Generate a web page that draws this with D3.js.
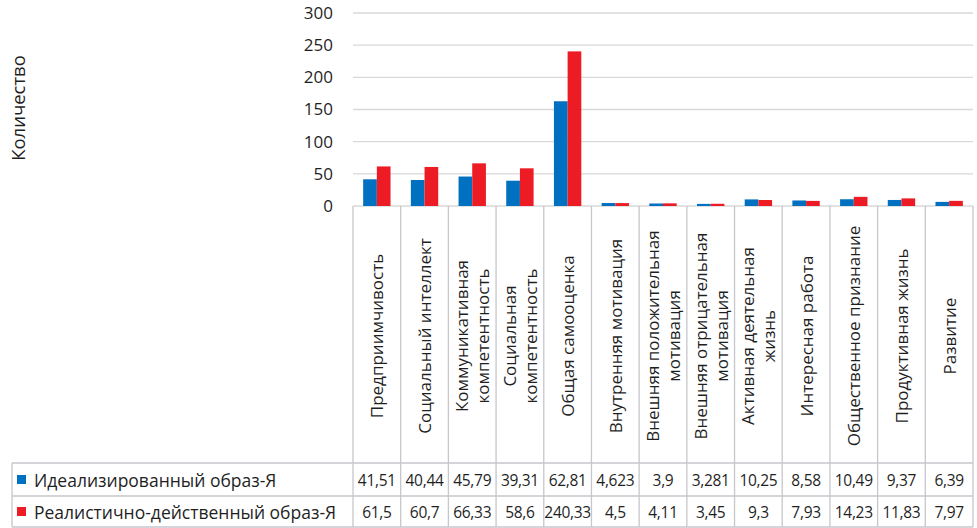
<!DOCTYPE html>
<html><head><meta charset="utf-8">
<script src="https://cdn.jsdelivr.net/npm/d3@7"></script>
<style>
body{margin:0;background:#fff;}
svg{display:block;font-family:"Open Sans",sans-serif;}
</style></head>
<body><svg id="c" width="977" height="528"></svg>
<script>
const categories = [
  ["Предприимчивость"],
  ["Социальный интеллект"],
  ["Коммуникативная","компетентность"],
  ["Социальная","компетентность"],
  ["Общая самооценка"],
  ["Внутренняя мотивация"],
  ["Внешняя положительная","мотивация"],
  ["Внешняя отрицательная","мотивация"],
  ["Активная деятельная","жизнь"],
  ["Интересная работа"],
  ["Общественное признание"],
  ["Продуктивная жизнь"],
  ["Развитие"]
];
const seriesNames = ["Идеализированный образ-Я","Реалистично-действенный образ-Я"];
const idealValues = [41.51,40.44,45.79,39.31,162.81,4.623,3.9,3.281,10.25,8.58,10.49,9.37,6.39];
const realValues  = [61.5,60.7,66.33,58.6,240.33,4.5,4.11,3.45,9.3,7.93,14.23,11.83,7.97];
const idealTableText = ["41,51","40,44","45,79","39,31","62,81","4,623","3,9","3,281","10,25","8,58","10,49","9,37","6,39"];
const realTableText  = ["61,5","60,7","66,33","58,6","240,33","4,5","4,11","3,45","9,3","7,93","14,23","11,83","7,97"];
const yTicks = [0,50,100,150,200,250,300];
const yTitle = "Количество";
const colors = ["#0070C0","#ED1C24"];

const svg = d3.select("#c");
const keys = categories.map((c,i)=>String(i));
const x = d3.scaleBand().domain(keys).range([353,973]).paddingInner(0).paddingOuter(0);
const bw = x.bandwidth();
const xs = d3.scaleBand().domain([0,1]).range([bw*0.213, bw*0.787]);
const y = d3.scaleLinear().domain([0,300]).range([206,13]);

const gridColor = "#D9D9D9", lineColor = "#C6C6CC", textColor = "#1f1f1f";

// gridlines
svg.append("g").selectAll("line").data(yTicks).join("line")
  .attr("x1",353).attr("x2",973).attr("y1",d=>y(d)).attr("y2",d=>y(d))
  .attr("stroke",gridColor).attr("stroke-width",1.3);

// y axis labels
const yAxis = d3.axisLeft(y).tickValues(yTicks).tickSize(0).tickPadding(0).tickFormat(d3.format("d"));
const ga = svg.append("g").attr("transform","translate(333,0)").call(yAxis);
ga.select(".domain").remove();
ga.selectAll("text").attr("font-size",17).attr("fill",textColor).attr("font-family","'Open Sans',sans-serif");

// y title
svg.append("text").attr("transform","translate(17,108) rotate(-90)")
  .attr("text-anchor","middle").attr("dominant-baseline","central")
  .attr("font-size",18.5).attr("fill",textColor).text(yTitle);

// bars
const data = categories.map((c,i)=>({k:String(i), v:[idealValues[i], realValues[i]]}));
const grp = svg.append("g").selectAll("g").data(data).join("g")
  .attr("transform",d=>`translate(${x(d.k)},0)`);
grp.selectAll("rect").data(d=>d.v.map((v,j)=>({v,j}))).join("rect")
  .attr("x",d=>xs(d.j)).attr("width",xs.bandwidth())
  .attr("y",d=>y(d.v)).attr("height",d=>y(0)-y(d.v))
  .attr("fill",d=>colors[d.j]);

// table vertical lines
const vx = keys.map(k=>x(k)).concat([x.range()[1]]);
svg.append("g").selectAll("line").data(vx).join("line")
  .attr("x1",d=>d).attr("x2",d=>d).attr("y1",206).attr("y2",527)
  .attr("stroke",lineColor).attr("stroke-width",1.3);
// legend column & row lines
const rowY = [463,496,527];
svg.append("g").selectAll("line").data(rowY).join("line")
  .attr("x1",12).attr("x2",973).attr("y1",d=>d).attr("y2",d=>d)
  .attr("stroke",lineColor).attr("stroke-width",1.3);
svg.append("line").attr("x1",12).attr("x2",12).attr("y1",463).attr("y2",527)
  .attr("stroke",lineColor).attr("stroke-width",1.3);

// category labels
const cl = svg.append("g").selectAll("text").data(categories).join("text")
  .attr("transform",(d,i)=>`translate(${x(String(i))+bw/2},336) rotate(-90)`)
  .attr("text-anchor","middle").attr("font-size",17).attr("fill",textColor);
cl.each(function(d){
  const t=d3.select(this); const n=d.length;
  d.forEach((s,j)=>{
    t.append("tspan").attr("x",0).attr("y",(j-(n-1)/2)*21).attr("dominant-baseline","central").text(s);
  });
});

// table rows
const tableText = [idealTableText, realTableText];
const defs = svg.append("defs");
keys.forEach((k,i)=>{
  defs.append("clipPath").attr("id","cp"+i).append("rect")
    .attr("x",x(k)+0.7).attr("y",463).attr("width",bw-1.4).attr("height",64);
});
rowY.slice(0,2).forEach((ry,r)=>{
  const cy = (ry + rowY[r+1])/2;
  svg.append("rect").attr("x",17).attr("y",cy-4.5).attr("width",9).attr("height",9).attr("fill",colors[r]);
  svg.append("text").attr("x",34).attr("y",cy).attr("dominant-baseline","central")
    .attr("font-size",17.5).attr("fill",textColor).text(seriesNames[r]);
  svg.append("g").selectAll("text").data(tableText[r]).join("text")
    .attr("x",(d,i)=>x(String(i))+bw/2).attr("y",cy)
    .attr("text-anchor","middle").attr("dominant-baseline","central")
    .attr("clip-path",(d,i)=>`url(#cp${i})`).attr("letter-spacing",-0.3)
    .attr("font-size",15.5).attr("fill",textColor).text(d=>d);
});
</script></body></html>
